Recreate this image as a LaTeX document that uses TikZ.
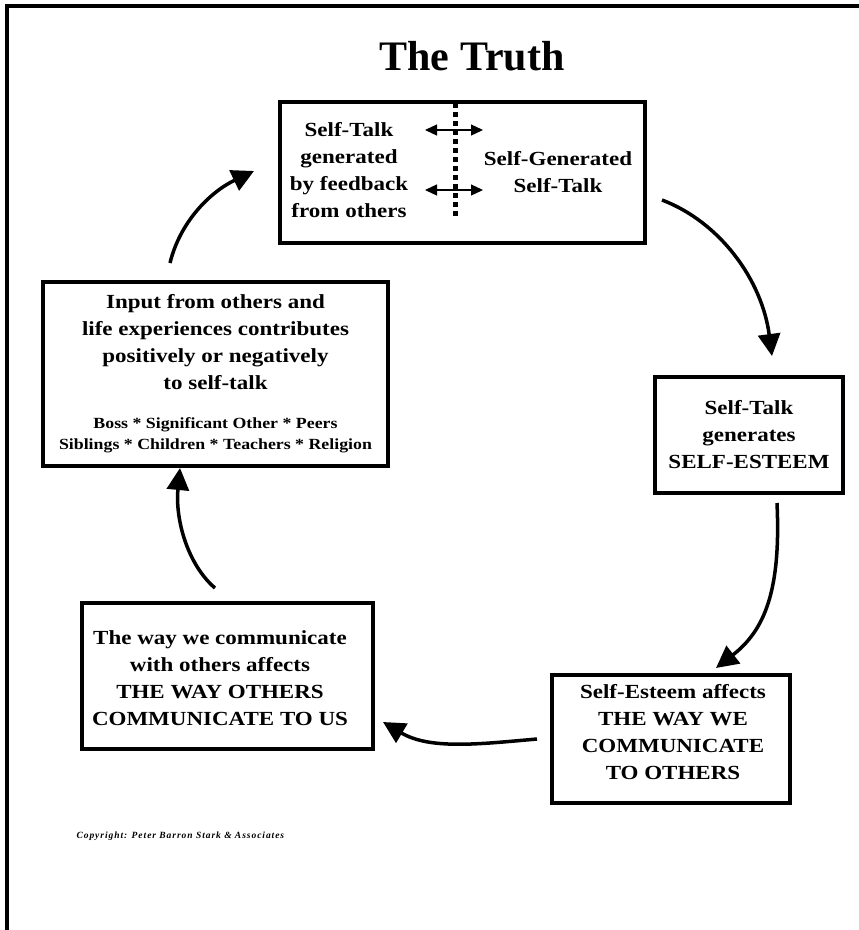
\documentclass[tikz,border=0pt]{standalone}
\usepackage{fontspec}
\setmainfont{Liberation Serif}
\newfontfamily\boxfont{Liberation Serif}[FakeStretch=1.15]
\newfontfamily\copyfont{Liberation Serif}[LetterSpace=10]
\usetikzlibrary{arrows.meta, positioning}

\begin{document}
\begin{tikzpicture}[x=1pt, y=-1pt,
    box/.style={draw, line width=3.2pt, inner sep=0pt, align=center,
        font=\boxfont\fontsize{20}{27}\selectfont\bfseries},
    txt/.style={inner sep=0pt, align=center,
        font=\boxfont\fontsize{20}{27}\selectfont\bfseries},
    flow/.style={line width=3.5pt, -{Triangle[length=22pt, width=22pt]}},
    both/.style={line width=1.3pt,
        {Triangle[length=12pt, width=11pt]}-{Triangle[length=12pt, width=11pt]}}]

    \useasboundingbox (0,0) rectangle (859,930);
    \draw[line width=4pt] (859,6) -- (7,6) -- (7,930);

    \node[anchor=base, font=\fontsize{42}{42}\selectfont\bfseries] (title) at (472,70) {The Truth};

    % top box with the divider
    \node[box, minimum width=365pt, minimum height=141pt] (talk) at (462.5,172.5) {};
    \node[txt] (fb) at (349,170) {Self-Talk\\generated\\by feedback\\from others};
    \node[txt] (sg) at (558,172) {Self-Generated\\Self-Talk};
    \coordinate (dv1) at (455,103);
    \coordinate (dv2) at (455,218);
    \draw[line width=5pt, dash pattern=on 5pt off 4pt] (dv1) -- (dv2);
    \coordinate (ha1) at (425,130);
    \coordinate (hb1) at (483,130);
    \coordinate (ha2) at (425,190);
    \coordinate (hb2) at (483,190);
    \draw[both] (ha1) -- (hb1);
    \draw[both] (ha2) -- (hb2);

    \node[box, minimum width=188pt, minimum height=116pt] (gen) at (749,435)
        {Self-Talk\\generates\\SELF-ESTEEM};
    \node[box, minimum width=238pt, minimum height=128pt] (affect) at (671,739) {};
    \node[txt] (affecttxt) at (673,732) {Self-Esteem affects\\THE WAY WE\\COMMUNICATE\\TO OTHERS};
    \node[box, minimum width=291pt, minimum height=146pt] (comm) at (227.5,676) {};
    \node[txt] (commtxt) at (220,678) {The way we communicate\\with others affects\\THE WAY OTHERS\\COMMUNICATE TO US};
    \node[box, minimum width=345pt, minimum height=184pt] (input) at (215.5,374)
        {Input from others and\\life experiences contributes\\positively or negatively\\to self-talk\\[12pt]
         {\fontsize{15.5}{21}\selectfont Boss * Significant Other * Peers\hspace*{24pt}}\\[-6pt]
         {\fontsize{15.5}{21}\selectfont Siblings * Children * Teachers * Religion}};

    % the cycle
    \coordinate (a1) at (662,200);
    \coordinate (a2) at (772,356);
    \coordinate (b1) at (777,503);
    \coordinate (b2) at (716,668);
    \coordinate (c1) at (537,739);
    \coordinate (c2) at (383,722);
    \coordinate (d1) at (215,588);
    \coordinate (d2) at (180,468);
    \coordinate (e1) at (170,263);
    \coordinate (e2) at (254,171);
    \draw[flow] (a1) .. controls (720,222) and (762,280) .. (a2);
    \draw[flow] (b1) .. controls (781,590) and (765,630) .. (b2);
    \draw[flow] (c1) .. controls (480,744) and (430,750) .. (c2);
    \draw[flow] (d1) .. controls (188,565) and (175,520) .. (d2);
    \draw[flow] (e1) .. controls (180,222) and (210,192) .. (e2);

    \node[anchor=west, font=\copyfont\fontsize{9.5}{9.5}\selectfont\bfseries\itshape] (copy) at (73,836)
        {Copyright: Peter Barron Stark \& Associates};
\end{tikzpicture}
\end{document}
